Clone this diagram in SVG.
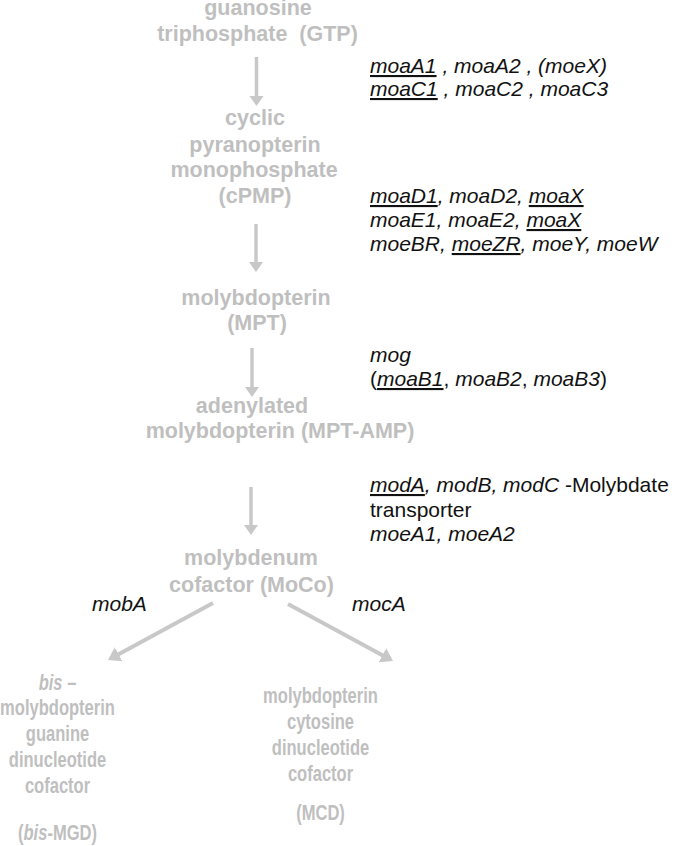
<svg xmlns="http://www.w3.org/2000/svg" width="680" height="846" viewBox="0 0 680 846">
<style>
.n{font-family:"Liberation Sans",Arial,sans-serif;font-weight:bold;font-size:21.5px;fill:#bfbfbf;text-anchor:middle}
.g{font-family:"Liberation Sans",Arial,sans-serif;font-size:21px;fill:#111;font-style:italic}
.u{text-decoration:underline}
.up{font-style:normal}
.i{font-style:italic}
.c{stroke:#c8c8c8;fill:none}
</style>
<defs>
<marker id="hv" markerUnits="userSpaceOnUse" markerWidth="12" markerHeight="16" refX="1" refY="7" orient="auto">
<path d="M0,0 L10,7 L0,14 z" fill="#c8c8c8"/>
</marker>
<marker id="hd" markerUnits="userSpaceOnUse" markerWidth="14" markerHeight="18" refX="2" refY="8" orient="auto">
<path d="M0,0 L12,8 L0,16 z" fill="#c8c8c8"/>
</marker>
</defs>
<rect width="680" height="846" fill="#fff"/>

<g id="connectors">
<line class="c" x1="256.5" y1="57" x2="256.5" y2="97" stroke-width="3.5" marker-end="url(#hv)"/>
<line class="c" x1="256" y1="224" x2="256" y2="263" stroke-width="3.5" marker-end="url(#hv)"/>
<line class="c" x1="252" y1="348" x2="252" y2="388" stroke-width="3.5" marker-end="url(#hv)"/>
<line class="c" x1="251" y1="487" x2="251" y2="526" stroke-width="3.5" marker-end="url(#hv)"/>
<line class="c" x1="213" y1="603" x2="116.8" y2="655.2" stroke-width="4" marker-end="url(#hd)"/>
<line class="c" x1="288" y1="604" x2="384.2" y2="656.2" stroke-width="4" marker-end="url(#hd)"/>
</g>

<g id="gtp">
<text class="n" x="258" y="15">guanosine</text>
<text class="n" x="257.5" y="41" xml:space="preserve">triphosphate  (GTP)</text>
</g>
<g id="cpmp">
<text class="n" x="255" y="125">cyclic</text>
<text class="n" x="255" y="152">pyranopterin</text>
<text class="n" x="254" y="177">monophosphate</text>
<text class="n" x="255" y="203">(cPMP)</text>
</g>
<g id="mpt">
<text class="n" x="256" y="305">molybdopterin</text>
<text class="n" x="257" y="330">(MPT)</text>
</g>
<g id="mptamp">
<text class="n" x="252" y="413">adenylated</text>
<text class="n" x="280" y="438">molybdopterin (MPT-AMP)</text>
</g>
<g id="moco">
<text class="n" x="251" y="565">molybdenum</text>
<text class="n" x="251.5" y="592">cofactor (MoCo)</text>
</g>
<g id="bismgd" transform="translate(57.5,0) scale(0.77,1)">
<text class="n" x="0" y="690"><tspan class="i">bis</tspan> –</text>
<text class="n" x="0" y="715">molybdopterin</text>
<text class="n" x="0" y="741">guanine</text>
<text class="n" x="0" y="767">dinucleotide</text>
<text class="n" x="0" y="793">cofactor</text>
<text class="n" x="0" y="840">(<tspan class="i">bis</tspan>-MGD)</text>
</g>
<g id="mcd" transform="translate(320.5,0) scale(0.77,1)">
<text class="n" x="0" y="703">molybdopterin</text>
<text class="n" x="0" y="729">cytosine</text>
<text class="n" x="0" y="755">dinucleotide</text>
<text class="n" x="0" y="781">cofactor</text>
<text class="n" x="0" y="820">(MCD)</text>
</g>

<g id="genes1">
<text class="g" x="370" y="73"><tspan class="u">moaA1</tspan> , moaA2 , (moeX)</text>
<text class="g" x="370" y="96"><tspan class="u">moaC1</tspan> , moaC2 , moaC3</text>
</g>
<g id="genes2">
<text class="g" x="370" y="203"><tspan class="u">moaD1</tspan>, moaD2, <tspan class="u">moaX</tspan></text>
<text class="g" x="370" y="227">moaE1, moaE2, <tspan class="u">moaX</tspan></text>
<text class="g" x="370" y="251">moeBR, <tspan class="u">moeZR</tspan>, moeY, moeW</text>
</g>
<g id="genes3">
<text class="g" x="370" y="362">mog</text>
<text class="g" x="370" y="386"><tspan class="up">(</tspan><tspan class="u">moaB1</tspan><tspan class="up">, </tspan>moaB2<tspan class="up">, </tspan>moaB3<tspan class="up">)</tspan></text>
</g>
<g id="genes4">
<text class="g" x="370" y="492"><tspan class="u">modA</tspan>, modB, modC <tspan class="up">-Molybdate</tspan></text>
<text class="g up" x="370" y="517">transporter</text>
<text class="g" x="370" y="541">moeA1, moeA2</text>
</g>
<g id="genes5">
<text class="g" x="92" y="611">mobA</text>
<text class="g" x="352" y="611">mocA</text>
</g>
</svg>
